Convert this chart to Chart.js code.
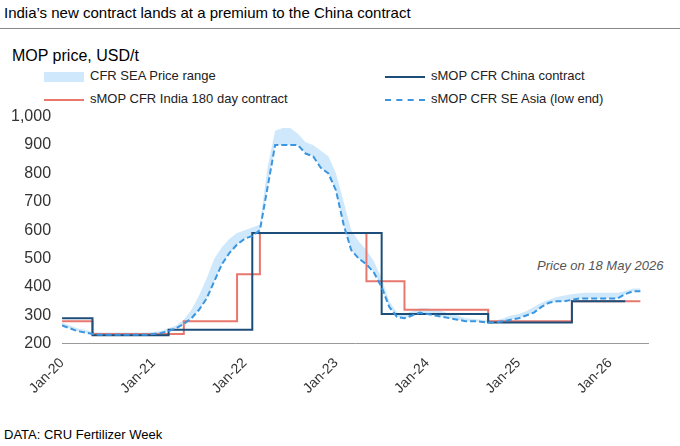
<!DOCTYPE html>
<html>
<head>
<meta charset="utf-8">
<script src="https://cdn.jsdelivr.net/npm/chart.js@4"></script>
<style>
body { margin:0; width:680px; height:446px; background:#fff; font-family:"Liberation Sans", Arial, sans-serif; position:relative; overflow:hidden; }
.abs { position:absolute; white-space:nowrap; }
#title { left:4px; top:4px; font-size:15px; color:#000; }
#rule { left:0; top:28px; width:680px; height:1px; background:#888; }
#sub { left:12px; top:47px; font-size:16px; color:#000; }
#foot { left:4px; top:427px; font-size:13px; color:#000; }
#note { left:537px; top:258px; font-size:13px; font-style:italic; color:#555; }
.leg { font-size:13px; color:#222; }
.sw { display:inline-block; width:40px; vertical-align:middle; margin-right:6px; }
#wrap { left:0; top:104px; width:680px; height:296px; }
</style>
</head>
<body>
<div class="abs" id="title">India’s new contract lands at a premium to the China contract</div>
<div class="abs" id="rule"></div>
<div class="abs" id="sub">MOP price, USD/t</div>
<div class="abs leg" style="left:44px;top:68px"><span class="sw" style="height:10px;background:#cfe8fb"></span>CFR SEA Price range</div>
<div class="abs leg" style="left:385px;top:68px"><span class="sw" style="height:2px;background:#1d4e79"></span>sMOP CFR China contract</div>
<div class="abs leg" style="left:44px;top:91px"><span class="sw" style="height:2px;background:#e8776d"></span>sMOP CFR India 180 day contract</div>
<div class="abs leg" style="left:385px;top:91px"><span class="sw" style="height:0;border-top:2px dashed #3a96e0"></span>sMOP CFR SE Asia (low end)</div>
<div class="abs" id="note">Price on 18 May 2026</div>
<div class="abs" id="foot">DATA: CRU Fertilizer Week</div>
<div class="abs" id="wrap"><canvas id="c"></canvas></div>
<script>
// months since Jan-2020
const seaLow = [265,255,245,240,235,232,232,232,232,232,232,232,
  235,238,245,255,270,290,320,360,420,480,520,550,
  570,580,600,750,900,900,900,900,870,860,820,800,
  740,620,530,500,480,450,400,330,295,290,300,310,
  305,300,295,290,285,280,280,278,275,275,280,285,
  290,300,310,330,345,350,350,355,360,360,360,360,
  360,360,375,385,385];
const seaHigh = [275,265,255,250,242,240,240,240,240,240,240,240,
  242,245,255,265,285,320,370,430,500,540,570,590,
  600,610,620,820,950,960,960,940,910,900,880,860,
  800,700,600,560,530,490,430,350,310,305,315,325,
  325,320,315,305,300,290,288,285,282,282,290,300,
  305,315,330,345,355,365,370,375,378,380,380,380,
  380,380,385,395,395];
// step contracts: [start month, price]
const chinaSteps = [[0,290],[4,230],[14,250],[25,590],[42,305],[56,275],[67,350],[74,350]];
const indiaSteps = [[0,280],[4,235],[16,280],[23,445],[26,590],[40,420],[45,320],[56,280],[67,350],[76,350]];
const tickYears = ['Jan-20','Jan-21','Jan-22','Jan-23','Jan-24','Jan-25','Jan-26'];

const pts = a => a.map((v,i) => ({x:i, y:v}));
const stepPts = s => s.map(p => ({x:p[0], y:p[1]}));

new Chart(document.getElementById('c'), {
  type: 'line',
  data: {
    datasets: [
      { data: pts(seaLow), borderWidth:0, pointRadius:0, fill:false, order:3 },
      { data: pts(seaHigh), borderWidth:0, pointRadius:0, fill:'-1', backgroundColor:'#cfe8fb', order:3 },
      { data: pts(seaLow), borderColor:'#3a96e0', borderDash:[6,3], borderWidth:2, pointRadius:0, order:0 },
      { data: stepPts(indiaSteps), borderColor:'#e8776d', borderWidth:2, pointRadius:0, stepped:'before', order:2 },
      { data: stepPts(chinaSteps), borderColor:'#1d4e79', borderWidth:2, pointRadius:0, stepped:'before', order:1 }
    ]
  },
  options: {
    responsive:true, maintainAspectRatio:false, animation:false,
    layout:{ padding:{ left:8, right:32, top:12 } },
    plugins:{ legend:{display:false}, tooltip:{enabled:false} },
    scales:{
      x:{ type:'linear', min:0, max:77,
        grid:{display:false}, border:{color:'#999'},
        ticks:{ stepSize:12, maxRotation:45, minRotation:45, color:'#333', font:{size:14},
          callback:v => tickYears[v/12] } },
      y:{ min:200, max:1000,
        grid:{display:false}, border:{display:false},
        ticks:{ stepSize:100, color:'#333', font:{size:16},
          callback:v => v.toLocaleString('en-US') } }
    }
  }
});
</script>
</body>
</html>
